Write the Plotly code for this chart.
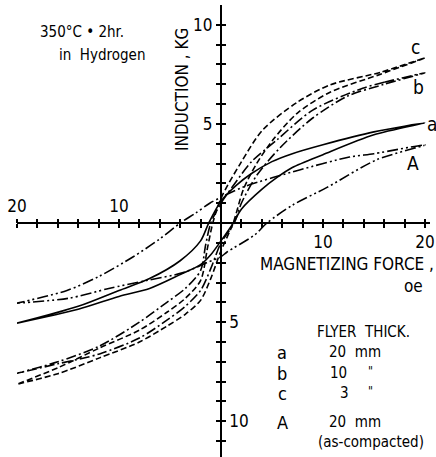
import plotly.graph_objects as go

# ---------------- data (H in oe, B in kG) ----------------
# Loop a : flyer 20 mm (solid)
a_up_H = [20, 15, 10, 7, 5, 3, 1.5, 0, -1.2, -2, -4, -7, -10, -14, -20]
a_up_B = [5.05, 4.6, 3.95, 3.5, 3.1, 2.5, 1.9, 1.1, 0, -0.9, -1.9, -2.8, -3.4, -4.2, -5.05]
a_lo_H = [-20, -14, -10, -7, -4, -2, -1, 0, 1.2, 2, 4, 5.5, 7, 10, 15, 20]
a_lo_B = [-5.05, -4.35, -3.7, -3.3, -2.6, -2.1, -1.6, -0.9, 0, 0.7, 1.7, 2.3, 2.8, 3.45, 4.45, 5.05]

# Loop b : flyer 10 mm (dash-dot)
b_up_H = [20, 16, 13.9, 9, 5.5, 3, 1.5, 0, -1.0, -1.5, -2, -3.5, -5.3, -8, -11.9, -16, -20]
b_up_B = [7.58, 7.1, 6.8, 5.7, 4.2, 3.1, 2.1, 1.0, 0, -1.1, -2.4, -3.3, -4.0, -5.0, -6.2, -7.0, -7.58]
b_lo_H = [-20, -16, -11.9, -8, -5.3, -3.5, -2, -1, 0, 1.3, 2, 3.5, 5.8, 9, 12.4, 16, 20]
b_lo_B = [-7.58, -7.1, -6.6, -5.8, -4.9, -4.2, -3.4, -2.3, -1.0, 0, 1.0, 2.4, 3.8, 5.3, 6.4, 7.0, 7.58]

# Loop c : flyer 3 mm (dashed)
c_up_H = [20, 15.6, 10.7, 7.5, 4.1, 1.9, 0, -0.8, -1.3, -2, -3.5, -5.3, -8, -11.9, -16, -20]
c_up_B = [8.33, 7.6, 6.97, 6.1, 4.7, 3.0, 1.25, 0, -1.2, -2.9, -3.8, -4.5, -5.4, -6.3, -7.3, -8.13]
c_lo_H = [-20, -16, -11.9, -8, -5.3, -3.5, -2, -1, 0, 1.2, 2.2, 3.5, 5.1, 7.5, 10.7, 15.6, 20]
c_lo_B = [-8.13, -7.6, -6.8, -6.0, -5.2, -4.6, -3.9, -2.8, -1.4, 0, 1.7, 3.0, 4.2, 5.55, 6.6, 7.5, 8.33]

# Loop A : 20 mm as-compacted (dash-dot-dot)
A_up_H = [20, 15, 12.6, 7.7, 2.2, 0, -1.1, -2.5, -4, -6, -8.6, -12, -15.1, -20]
A_up_B = [3.94, 3.5, 3.33, 2.68, 1.82, 1.3, 1.0, 0.5, 0, -0.8, -1.7, -2.7, -3.4, -4.04]
A_lo_H = [-20, -15, -11, -7.3, -3.7, -1.4, 0, 0.6, 3.3, 4.5, 7, 10.4, 15.3, 20]
A_lo_B = [-4.04, -3.8, -3.3, -2.9, -2.5, -2.0, -1.7, -1.46, -0.6, 0, 0.9, 1.8, 3.2, 3.94]

curve_names = ["a", "b", "c", "A"]

# axis ticks and labels
x_tickvals = [-20, -18, -16, -14, -12, -10, -8, -6, -4, -2, 0, 2, 4, 6, 8, 10, 12, 14, 16, 18, 20]
x_text_pos = ["" if v not in (10, 20) else str(v) for v in x_tickvals]
x_text_neg = ["" if v not in (-10, -20) else str(-v) for v in x_tickvals]
y_tickvals = list(range(-11, 11))
y_text_pos = ["" if v not in (5, 10) else str(v) for v in y_tickvals]
y_text_neg = ["" if v not in (-5, -10) else str(-v) for v in y_tickvals]

# ---------------- layout geometry ----------------
W, H = 436, 457
ML, MR, MT, MB = 17, 6, 5, 0
XMIN, XMAX = -20.0, 20.5
YMIN, YMAX = -11.8, 11.0
pw, ph = W - ML - MR, H - MT - MB


def px(x):
    return (x - ML) / pw


def py(y):
    return 1 - (y - MT) / ph


x0_frac = (0 - XMIN) / (XMAX - XMIN)
y0_frac = (0 - YMIN) / (YMAX - YMIN)

FONT = "Liberation Sans Narrow, DejaVu Sans Condensed, Liberation Sans, sans-serif"

fig = go.Figure()

styles = {
    "a": dict(dash="solid"),
    "b": dict(dash="10px,3px,2px,3px"),
    "c": dict(dash="6px,3px"),
    "A": dict(dash="11px,3px,2px,3px,2px,3px"),
}
loops = {
    "a": (a_up_H + a_lo_H, a_up_B + a_lo_B),
    "b": (b_up_H + b_lo_H, b_up_B + b_lo_B),
    "c": (c_up_H + c_lo_H, c_up_B + c_lo_B),
    "A": (A_up_H + A_lo_H, A_up_B + A_lo_B),
}
for name in curve_names:
    hx, by = loops[name]
    fig.add_trace(go.Scatter(
        x=hx, y=by, mode="lines", name=name, showlegend=False,
        line=dict(color="black", width=1.6, shape="spline", smoothing=0.8, dash=styles[name]["dash"]),
        cliponaxis=False, hoverinfo="skip",
    ))

# invisible trace for secondary axes
fig.add_trace(go.Scatter(x=[0], y=[0], xaxis="x2", yaxis="y2", mode="markers",
                         marker=dict(opacity=0), showlegend=False, hoverinfo="skip"))

axis_common = dict(showgrid=False, zeroline=False, ticks="outside", ticklen=4, tickwidth=1.5,
                   tickcolor="black", tickfont=dict(family=FONT, size=17, color="black"))

fig.update_layout(
    width=W, height=H,
    margin=dict(l=ML, r=MR, t=MT, b=MB, pad=0),
    paper_bgcolor="white", plot_bgcolor="white",
    xaxis=dict(range=[XMIN, XMAX], anchor="free", position=y0_frac, side="bottom",
               showline=True, linecolor="black", linewidth=2,
               tickmode="array", tickvals=x_tickvals, ticktext=x_text_pos, **axis_common),
    xaxis2=dict(range=[XMIN, XMAX], anchor="free", position=y0_frac, side="top", overlaying="x",
                showline=False, tickmode="array", tickvals=x_tickvals, ticktext=x_text_neg, **axis_common),
    yaxis=dict(range=[YMIN, YMAX], anchor="free", position=x0_frac, side="left",
               showline=True, linecolor="black", linewidth=2,
               tickmode="array", tickvals=y_tickvals, ticktext=y_text_pos, **axis_common),
    yaxis2=dict(range=[YMIN, YMAX], anchor="free", position=x0_frac, side="right", overlaying="y",
                showline=False, tickmode="array", tickvals=y_tickvals, ticktext=y_text_neg, **axis_common),
)


def note(text, x, y, size=15, angle=0, xanchor="center"):
    fig.add_annotation(text=text, xref="paper", yref="paper", x=px(x), y=py(y),
                       showarrow=False, textangle=angle, xanchor=xanchor, yanchor="middle",
                       font=dict(family=FONT, size=size, color="black"))


note("350°C • 2hr.", 38, 32, size=15, xanchor="left")
note("in  Hydrogen", 57, 55, size=15, xanchor="left")
note("INDUCTION , KG", 182, 90, size=17, angle=-90)
note("MAGNETIZING FORCE ,", 436, 264, size=17, xanchor="right")
note("oe", 413, 286, size=17)
note("FLYER  THICK.", 315, 332, size=15, xanchor="left")
note("a", 282, 352, size=18)
note("20  mm", 327, 352, size=15, xanchor="left")
note("b", 282, 373, size=18)
note("10", 328, 373, size=15, xanchor="left")
note("\"", 370, 371, size=12)
note("c", 282, 393, size=18)
note("3", 338, 393, size=15, xanchor="left")
note("\"", 370, 391, size=12)
note("A", 282, 422, size=18)
note("20  mm", 327, 422, size=15, xanchor="left")
note("(as-compacted)", 316, 442, size=15, xanchor="left")

# curve labels
note("c", 415, 47, size=19)
note("b", 418, 87, size=19)
note("a", 432, 124, size=19)
note("A", 413, 163, size=19)

fig.write_html("out.html")
